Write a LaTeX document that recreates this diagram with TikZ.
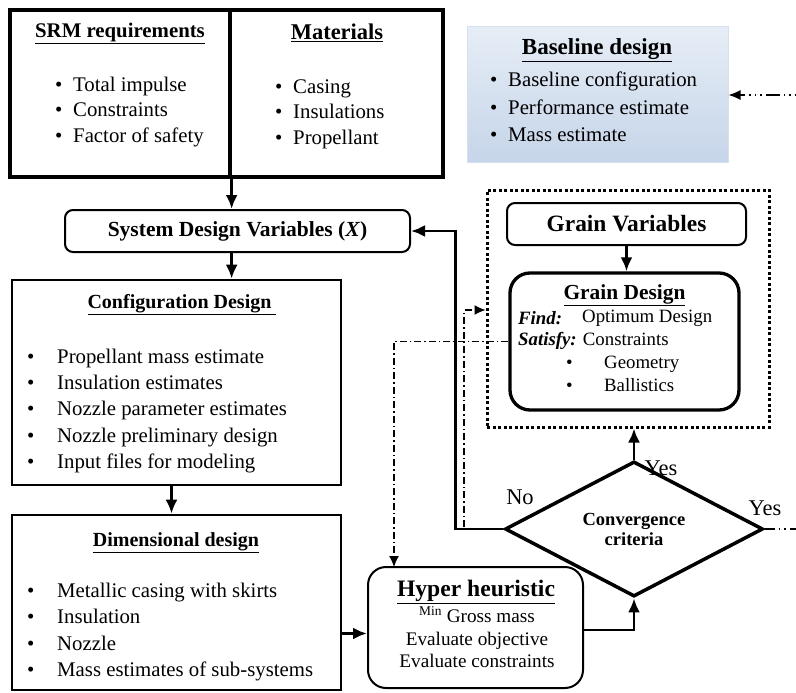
\documentclass[tikz,border=0pt]{standalone}
\usepackage{fontspec}
\setmainfont{Liberation Serif}
\usetikzlibrary{positioning,arrows.meta,shapes.geometric}

\definecolor{baselt}{RGB}{230,237,246}
\definecolor{basedk}{RGB}{198,213,233}
\definecolor{baseedge}{RGB}{214,225,239}

\newcommand{\itm}[1]{\makebox[#1][l]{\textbullet}}

\begin{document}
\begin{tikzpicture}[
			x=1pt, y=-1pt,
			box/.style={
				draw,
				line width=2.6pt,
				inner sep=0pt
			},
			rbox/.style={
				draw,
				line width=2pt,
				rounded corners=8pt,
				inner sep=0pt
			},
			flow/.style={
				line width=2.8pt,
				->,
				>={Latex[length=14pt,width=12pt]}
			},
			dashdot/.style={
				line width=1.2pt,
				dash pattern=on 7pt off 3pt on 1.5pt off 3pt,
				->,
				>={Latex[length=11pt,width=10pt]}
			},
			txt/.style={
				inner sep=0pt,
				font=\fontsize{20.8}{25.5}\selectfont
			},
			lst/.style={
				txt,
				anchor=west,
				align=left
			},
			ttl/.style={
				inner sep=0pt,
				font=\fontsize{20.8}{25}\selectfont\bfseries
			}
			]
			\useasboundingbox (0,0) rectangle (796,693);

			% input boxes
			\node[box, line width=3.3pt, minimum width=220pt, minimum height=167pt] (srm) at (120,93.5) {};
			\node[box, line width=3.3pt, minimum width=213pt, minimum height=167pt] (mat) at (336.5,93.5) {};
			\node[ttl] (srmt) at (120,33) {\underline{SRM requirements}};
			\node[lst] (srml) at (55,112) {\itm{18pt}Total impulse\\\itm{18pt}Constraints\\\itm{18pt}Factor of safety};
			\node[ttl, font=\fontsize{22.5}{25}\selectfont\bfseries] (matt) at (337,33) {\underline{Materials}};
			\node[lst] (matl) at (275,114) {\itm{18pt}Casing\\\itm{18pt}Insulations\\\itm{18pt}Propellant};

			% baseline design
			\node[draw=baseedge, line width=1pt, top color=baselt, bottom color=basedk,
				minimum width=261pt, minimum height=135pt, inner sep=0pt] (base) at (597.5,94.5) {};
			\node[ttl, font=\fontsize{23}{25}\selectfont\bfseries] (baset) at (597,50) {\underline{Baseline design}};
			\node[lst, font=\fontsize{20.8}{27.5}\selectfont] (basel) at (490,107)
				{\itm{18pt}Baseline configuration\\\itm{18pt}Performance estimate\\\itm{18pt}Mass estimate};

			% system variables
			\node[rbox, minimum width=345pt, minimum height=42pt, font=\fontsize{21.5}{25}\selectfont\bfseries] (sdv) at (237.5,231)
				{System Design Variables (\textit{X})};

			% configuration design
			\node[box, minimum width=329pt, minimum height=205pt] (cfg) at (176.5,382.5) {};
			\node[ttl, font=\fontsize{20}{25}\selectfont\bfseries] (cfgt) at (182,305) {\underline{Configuration Design }};
			\node[lst, font=\fontsize{20.8}{26.4}\selectfont] (cfgl) at (27,411)
				{\itm{30pt}Propellant mass estimate\\\itm{30pt}Insulation estimates\\\itm{30pt}Nozzle parameter estimates\\
				\itm{30pt}Nozzle preliminary design\\\itm{30pt}Input files for modeling};

			% dimensional design
			\node[box, minimum width=329pt, minimum height=175pt] (dim) at (176.5,602.5) {};
			\node[ttl, font=\fontsize{20}{25}\selectfont\bfseries] (dimt) at (176,543) {\underline{Dimensional design}};
			\node[lst, font=\fontsize{20.8}{26.3}\selectfont] (diml) at (27,632)
				{\itm{30pt}Metallic casing with skirts\\\itm{30pt}Insulation\\\itm{30pt}Nozzle\\\itm{30pt}Mass estimates of sub-systems};

			% hyper heuristic
			\node[rbox, rounded corners=18pt, minimum width=215pt, minimum height=121pt] (hh) at (475.5,627.5) {};
			\node[ttl, font=\fontsize{23.6}{25}\selectfont\bfseries] (hht) at (476,592) {\underline{Hyper heuristic}};
			\node[txt, align=center, font=\fontsize{19.2}{22.5}\selectfont] (hhl) at (477,637)
				{\textsuperscript{Min} Gross mass\\Evaluate objective\\Evaluate constraints};

			% convergence check
			\node[draw, diamond, line width=3.5pt, minimum width=258pt, minimum height=103pt, inner sep=0pt,
				align=center, font=\fontsize{18.5}{20}\selectfont\bfseries] (conv) at (634,529) {Convergence\\criteria};

			% grain loop
			\node[draw, line width=3pt, dash pattern=on 3pt off 2.5pt, minimum width=282pt, minimum height=237pt] (gbox) at (628,308.5) {};
			\node[rbox, minimum width=239pt, minimum height=42pt, font=\fontsize{23.4}{25}\selectfont\bfseries] (gv) at (626.5,224)
				{Grain Variables};
			\node[rbox, line width=3.3pt, rounded corners=20pt, minimum width=229pt, minimum height=137pt] (gd) at (624.5,341.5) {};
			\node[ttl, font=\fontsize{21.4}{25}\selectfont\bfseries] (gdt) at (624.5,295) {\underline{Grain Design}};
			\node[txt, anchor=west, font=\fontsize{18.8}{22}\selectfont] (gdf) at (518,318) {\textbf{\textit{Find:}}};
			\node[txt, anchor=west, font=\fontsize{18.8}{22}\selectfont] (gdo) at (582,318) {Optimum Design};
			\node[txt, anchor=west, font=\fontsize{18.8}{22}\selectfont] (gds) at (518,341) {\textbf{\textit{Satisfy:}} Constraints};
			\node[lst, font=\fontsize{18.8}{23}\selectfont] (gdl) at (566,373.5) {\itm{38pt}Geometry\\\itm{38pt}Ballistics};

			% labels
			\node[txt, font=\fontsize{22.5}{25}\selectfont] (no) at (520,497) {No};
			\node[txt, font=\fontsize{22.5}{25}\selectfont] (yes1) at (661,468) {Yes};
			\node[txt, font=\fontsize{22.5}{25}\selectfont] (yes2) at (765,508) {Yes};

			% connectors
			\draw[flow] (srm.south east) -- (srm.south east |- sdv.north);
			\draw[flow] (sdv.south -| srm.south east) -- (srm.south east |- cfg.north);
			\draw[flow] ([xshift=-5pt]cfg.south) -- ([xshift=-5pt]cfg.south |- dim.north);
			\draw[flow] ([yshift=-31pt]dim.east) -- ([yshift=-31pt]dim.east -| hh.west);
			\draw[flow] ([yshift=-2.5pt]hh.east) -| (conv.south);
			\draw[flow] (conv.north) -- (conv.north |- gbox.south);
			\draw[flow] (gv.south) -- (gv.south |- gd.north);
			\draw[flow] (conv.west) -- ++(-48,0) |- (sdv.east);

			\coordinate (hhin) at (394,567);
			\draw[dashdot] (gd.west) -| (hhin);
			\coordinate (fbot) at (464,527);
			\coordinate (ftop) at (464,310);
			\draw[dashdot] (fbot) -- (ftop) -- (ftop -| gbox.west);

			\coordinate (bin) at (796,95);
			\draw[line width=1.2pt, dash pattern=on 1.5pt off 4pt on 1.5pt off 4pt on 1.5pt off 4pt on 14pt off 4pt,
				->, >={Latex[length=12pt,width=10pt]}] (bin) -- (bin -| base.east);
			\coordinate (cout) at (796,529);
			\draw[line width=1.2pt, dash pattern=on 10pt off 4pt on 1.5pt off 4pt on 1.5pt off 4pt] (conv.east) -- (cout);
		\end{tikzpicture}
\end{document}
